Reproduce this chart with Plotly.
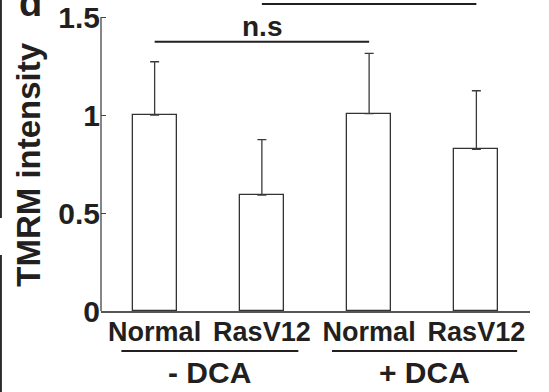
import plotly.graph_objects as go

# TMRM intensity per condition (mean and SD)
categories = ["Normal", "RasV12", "Normal", "RasV12"]
means = [1.0, 0.592, 1.007, 0.825]
sd = [0.272, 0.282, 0.308, 0.299]
y_ticks = [0, 0.5, 1, 1.5]
y_tick_labels = ["0", "0.5", "1", "1.5"]
groups = ["- DCA", "+ DCA"]
# comparison brackets: (from bar, to bar, height, label)
brackets = [(0, 2, 1.374, "n.s"), (1, 3, 1.566, "")]

ink = "#231f20"
font = "Liberation Sans, Arial, sans-serif"
x = list(range(len(categories)))


def bold(size):
    return dict(family=font, size=size, color=ink, weight="bold")


fig = go.Figure()
fig.add_trace(go.Bar(
    x=x, y=means, width=0.41,
    marker=dict(color="white", line=dict(color="#333333", width=1.3)),
    error_y=dict(type="data", array=sd, arrayminus=[0] * len(sd), symmetric=False,
                 color="#3a3a3a", thickness=1.3, width=4.5),
    showlegend=False,
))

shapes = []
annotations = []

# left axis line, only up to 1.5
shapes.append(dict(type="line", xref="paper", yref="y", x0=0, x1=0, y0=0, y1=1.5,
                   line=dict(color="#444444", width=1.3)))

# edge of the neighbouring panel
for y0, y1 in [(1.0, 0.299), (0.18, -0.27)]:
    shapes.append(dict(type="line", xref="paper", yref="paper", x0=-0.2333, x1=-0.2333,
                       y0=y0, y1=y1, line=dict(color="#2a2a2a", width=2)))

# brackets above bars
for a, b, h, lab in brackets:
    shapes.append(dict(type="line", xref="x", yref="y", x0=a, x1=b, y0=h, y1=h,
                       line=dict(color=ink, width=2)))
    if lab:
        annotations.append(dict(x=(a + b) / 2, y=h, xref="x", yref="y", text=lab,
                                showarrow=False, yanchor="bottom", yshift=-2,
                                font=bold(28)))

# treatment group underlines and labels
group_spans = [(-0.31, 1.34), (1.654, 3.38)]
for (g0, g1), g in zip(group_spans, groups):
    shapes.append(dict(type="line", xref="x", yref="paper", x0=g0, x1=g1,
                       y0=-0.129, y1=-0.129, line=dict(color=ink, width=2)))
    annotations.append(dict(x=(g0 + g1) / 2, y=-0.14, xref="x", yref="paper", text=g,
                            showarrow=False, yanchor="top", yshift=1, font=bold(30)))

# y-axis title
annotations.append(dict(x=-0.168, y=0.47, xref="paper", yref="paper",
                        text="TMRM intensity", textangle=-90, showarrow=False,
                        xanchor="center", yanchor="middle", font=bold(33)))

# panel letter
annotations.append(dict(x=-0.165, y=0.915, xref="paper", yref="paper", text="d",
                        showarrow=False, xanchor="center", yanchor="bottom",
                        font=bold(38)))

fig.update_layout(
    width=549, height=392,
    margin=dict(l=101, r=19, t=0, b=81),
    paper_bgcolor="white", plot_bgcolor="white",
    shapes=shapes, annotations=annotations,
    font=dict(family=font, color=ink),
    xaxis=dict(range=[-0.5, 3.5], tickvals=x, ticktext=categories,
               showline=True, linecolor="#555555", linewidth=1.8,
               ticks="", showgrid=False, zeroline=False,
               ticklabelstandoff=-4, tickfont=bold(27)),
    yaxis=dict(range=[0, 1.587], tickvals=y_ticks, ticktext=y_tick_labels,
               showline=False, ticks="inside", ticklen=5, tickwidth=1.3,
               tickcolor="#444444", showgrid=False, zeroline=False,
               tickfont=bold(30)),
    bargap=0,
)

fig.write_html("out.html")
